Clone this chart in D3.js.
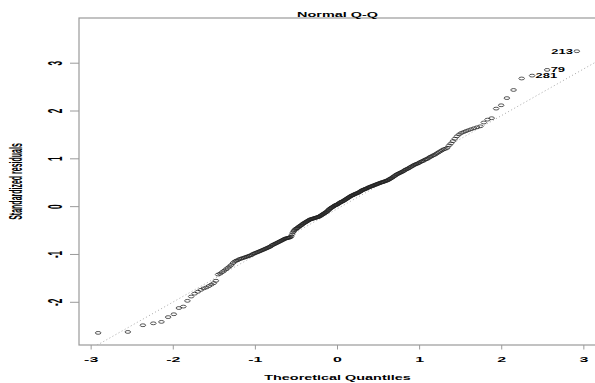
<!DOCTYPE html>
<html>
<head>
<meta charset="utf-8">
<script src="https://cdn.jsdelivr.net/npm/d3@7"></script>
<style>
  body { margin: 0; background: #fff; }
  text { font-family: "Liberation Sans", Arial, sans-serif; fill: #000; }
</style>
</head>
<body>
<svg id="chart" width="595" height="383"></svg>
<script>
// sorted standardized residuals (n = 281)
const residuals = [
  -2.64, -2.62, -2.48, -2.44, -2.41, -2.31, -2.25, -2.12, -2.09, -1.97,
  -1.88, -1.82, -1.78, -1.74, -1.71, -1.69, -1.66, -1.63, -1.60, -1.55,
  -1.42, -1.40, -1.37, -1.34, -1.31, -1.28, -1.25, -1.22, -1.18, -1.15,
  -1.13, -1.12, -1.10, -1.09, -1.08, -1.07, -1.06, -1.05, -1.04, -1.03,
  -1.02, -1.01, -0.99, -0.98, -0.97, -0.96, -0.95, -0.94, -0.93, -0.92,
  -0.91, -0.90, -0.89, -0.88, -0.87, -0.86, -0.85, -0.84, -0.83, -0.81,
  -0.80, -0.79, -0.78, -0.77, -0.76, -0.75, -0.74, -0.73, -0.72, -0.71,
  -0.70, -0.69, -0.68, -0.67, -0.665, -0.66, -0.655, -0.65, -0.645, -0.64,
  -0.62, -0.58, -0.54, -0.51, -0.49, -0.47, -0.46, -0.45, -0.44, -0.42,
  -0.41, -0.40, -0.39, -0.375, -0.36, -0.35, -0.34, -0.33, -0.32, -0.31,
  -0.30, -0.29, -0.28, -0.27, -0.265, -0.26, -0.255, -0.25, -0.245, -0.24,
  -0.235, -0.23, -0.225, -0.22, -0.215, -0.21, -0.20, -0.19, -0.18, -0.17,
  -0.16, -0.15, -0.14, -0.13, -0.12, -0.11, -0.10, -0.08, -0.07, -0.05,
  -0.04, -0.03, -0.02, -0.01, 0.00, 0.01, 0.02, 0.03, 0.035, 0.04, 0.05,
  0.06, 0.07, 0.08, 0.09, 0.10, 0.105, 0.11, 0.12, 0.13,
  0.14, 0.15, 0.16, 0.17, 0.18, 0.19, 0.20, 0.21, 0.22, 0.23,
  0.235, 0.24, 0.25, 0.26, 0.265, 0.27, 0.28, 0.285, 0.29, 0.30,
  0.31, 0.32, 0.33, 0.34, 0.35, 0.355, 0.36, 0.37, 0.375, 0.38,
  0.39, 0.40, 0.405, 0.41, 0.42, 0.425, 0.43, 0.44, 0.445, 0.45,
  0.46, 0.465, 0.47, 0.48, 0.485, 0.49, 0.50, 0.505, 0.51, 0.515,
  0.52, 0.53, 0.535, 0.54, 0.55, 0.555, 0.57, 0.58, 0.59, 0.60,
  0.615, 0.63, 0.64, 0.655, 0.67, 0.68, 0.69, 0.70, 0.71, 0.72,
  0.73, 0.74, 0.755, 0.77, 0.78, 0.79, 0.80, 0.815, 0.83, 0.84,
  0.855, 0.87, 0.88, 0.89, 0.90, 0.91, 0.925, 0.94, 0.95, 0.96,
  0.98, 0.99, 1.00, 1.02, 1.04, 1.05, 1.07, 1.08, 1.10, 1.12,
  1.14, 1.16, 1.18, 1.20, 1.21, 1.23, 1.28, 1.32, 1.37, 1.42,
  1.47, 1.51, 1.54, 1.56, 1.58, 1.60, 1.62, 1.64, 1.66, 1.68,
  1.76, 1.82, 1.85, 2.05, 2.12, 2.27, 2.44, 2.68, 2.74, 2.86, 3.25
];

// ids of the three largest |residuals| and which side their label sits on
const labelIds = ["213", "79", "281"];
const labelSide = ["left", "right", "right"];

const xTicks = [-3, -2, -1, 0, 1, 2, 3];
const yTicks = [-2, -1, 0, 1, 2, 3];

const titleText = "Normal Q-Q";
const xTitle = "Theoretical Quantiles";
const yTitle = "Standardized residuals";

// inverse normal cdf (Acklam)
function qnorm(p) {
  const a = [-39.6968302866538, 220.946098424521, -275.928510446969, 138.357751867269, -30.6647980661472, 2.50662827745924];
  const b = [-54.4760987982241, 161.585836858041, -155.698979859887, 66.8013118877197, -13.2806815528857];
  const c = [-0.00778489400243029, -0.322396458041136, -2.40075827716184, -2.54973253934373, 4.37466414146497, 2.93816398269878];
  const d = [0.00778469570904146, 0.32246712907004, 2.445134137143, 3.75440866190742];
  const pl = 0.02425;
  let q, r;
  if (p < pl) {
    q = Math.sqrt(-2 * Math.log(p));
    return (((((c[0] * q + c[1]) * q + c[2]) * q + c[3]) * q + c[4]) * q + c[5]) /
      ((((d[0] * q + d[1]) * q + d[2]) * q + d[3]) * q + 1);
  } else if (p <= 1 - pl) {
    q = p - 0.5;
    r = q * q;
    return (((((a[0] * r + a[1]) * r + a[2]) * r + a[3]) * r + a[4]) * r + a[5]) * q /
      (((((b[0] * r + b[1]) * r + b[2]) * r + b[3]) * r + b[4]) * r + 1);
  }
  q = Math.sqrt(-2 * Math.log(1 - p));
  return -(((((c[0] * q + c[1]) * q + c[2]) * q + c[3]) * q + c[4]) * q + c[5]) /
    ((((d[0] * q + d[1]) * q + d[2]) * q + d[3]) * q + 1);
}

// build the q-q pairs like qqnorm (ppoints with a = 0.5)
const n = residuals.length;
const data = residuals.map((v, i) => ({ tq: qnorm((i + 0.5) / n), rs: v }));

// plot region
const margin = { top: 18, left: 79, bottom: 345, right: 596 };
const svg = d3.select("#chart");

// R style limits: 4% padding, extra 7.5% headroom on y (plot.lm)
const xr = d3.extent(data, (d) => d.tq);
const xpad = (xr[1] - xr[0]) * 0.04;
const x = d3.scaleLinear().domain([xr[0] - xpad, xr[1] + xpad]).range([margin.left, margin.right]);

const yr = d3.extent(data, (d) => d.rs);
yr[1] = yr[1] + (yr[1] - yr[0]) * 0.075;
const ypad = (yr[1] - yr[0]) * 0.04;
const y = d3.scaleLinear().domain([yr[0] - ypad, yr[1] + ypad]).range([margin.bottom, margin.top]);

const axisColor = "#9a9a9a";

// clip for the reference line
svg.append("clipPath").attr("id", "clip")
  .append("rect")
  .attr("x", margin.left).attr("y", margin.top)
  .attr("width", margin.right - margin.left)
  .attr("height", margin.bottom - margin.top);

// qqline through the quartiles
const sorted = residuals.slice().sort(d3.ascending);
const y1 = d3.quantile(sorted, 0.25), y2 = d3.quantile(sorted, 0.75);
const x1 = qnorm(0.25), x2 = qnorm(0.75);
const slope = (y2 - y1) / (x2 - x1);
const intercept = y1 - slope * x1;
const xd = x.domain();
svg.append("line")
  .attr("clip-path", "url(#clip)")
  .attr("x1", x(xd[0])).attr("y1", y(intercept + slope * xd[0]))
  .attr("x2", x(xd[1])).attr("y2", y(intercept + slope * xd[1]))
  .attr("stroke", "#a8a8a8")
  .attr("stroke-width", 1)
  .attr("stroke-dasharray", "1,2.5");

// points (stretched circles)
svg.append("g")
  .selectAll("ellipse")
  .data(data)
  .join("ellipse")
  .attr("cx", (d) => x(d.tq))
  .attr("cy", (d) => y(d.rs))
  .attr("rx", 2.8)
  .attr("ry", 1.4)
  .attr("fill", "none")
  .attr("stroke", "#222")
  .attr("stroke-width", 0.75);

// box
svg.append("rect")
  .attr("x", margin.left).attr("y", margin.top)
  .attr("width", margin.right - margin.left)
  .attr("height", margin.bottom - margin.top)
  .attr("fill", "none")
  .attr("stroke", axisColor)
  .attr("stroke-width", 1.2);

// x axis ticks + labels
const xAxis = svg.append("g");
xAxis.selectAll("line")
  .data(xTicks)
  .join("line")
  .attr("x1", (d) => x(d)).attr("x2", (d) => x(d))
  .attr("y1", margin.bottom).attr("y2", margin.bottom + 4.5)
  .attr("stroke", axisColor)
  .attr("stroke-width", 1);
xAxis.selectAll("text")
  .data(xTicks)
  .join("text")
  .attr("transform", (d) => `translate(${x(d)},362.3) scale(2,1)`)
  .attr("text-anchor", "middle")
  .attr("font-size", 8)
  .attr("font-weight", "bold")
  .text((d) => d);

// y axis ticks + labels (rotated, parallel to axis)
const yAxis = svg.append("g");
yAxis.selectAll("line")
  .data(yTicks)
  .join("line")
  .attr("x1", margin.left - 9).attr("x2", margin.left)
  .attr("y1", (d) => y(d)).attr("y2", (d) => y(d))
  .attr("stroke", axisColor)
  .attr("stroke-width", 1);
yAxis.selectAll("text")
  .data(yTicks)
  .join("text")
  .attr("transform", (d) => `translate(61.5,${y(d)}) scale(2.5,1) rotate(-90)`)
  .attr("text-anchor", "middle")
  .attr("font-size", 8.2)
  .attr("font-weight", "bold")
  .text((d) => d);

// titles
svg.append("text")
  .attr("transform", `translate(${(margin.left + margin.right) / 2},16.8) scale(1.9,1)`)
  .attr("text-anchor", "middle")
  .attr("font-size", 7.6)
  .attr("font-weight", "bold")
  .text(titleText);

svg.append("text")
  .attr("transform", `translate(${(margin.left + margin.right) / 2},379.5) scale(1.85,1)`)
  .attr("text-anchor", "middle")
  .attr("font-size", 7.8)
  .attr("font-weight", "bold")
  .text(xTitle);

svg.append("text")
  .attr("transform", `translate(22,${(margin.top + margin.bottom) / 2}) scale(2.7,1) rotate(-90)`)
  .attr("text-anchor", "middle")
  .attr("font-size", 7)
  .attr("font-weight", "bold")
  .text(yTitle);

// id labels on the three most extreme residuals
const extremes = data.slice().sort((a, b) => Math.abs(b.rs) - Math.abs(a.rs)).slice(0, labelIds.length);
svg.append("g")
  .selectAll("text")
  .data(extremes)
  .join("text")
  .attr("transform", (d, i) => {
    const gap = labelSide[i] === "left" ? -4 : 3.5;
    return `translate(${x(d.tq) + gap},${y(d.rs) + 2.4}) scale(1.85,1)`;
  })
  .attr("text-anchor", (d, i) => (labelSide[i] === "left" ? "end" : "start"))
  .attr("font-size", 7)
  .attr("font-weight", "bold")
  .text((d, i) => labelIds[i]);
</script>
</body>
</html>
